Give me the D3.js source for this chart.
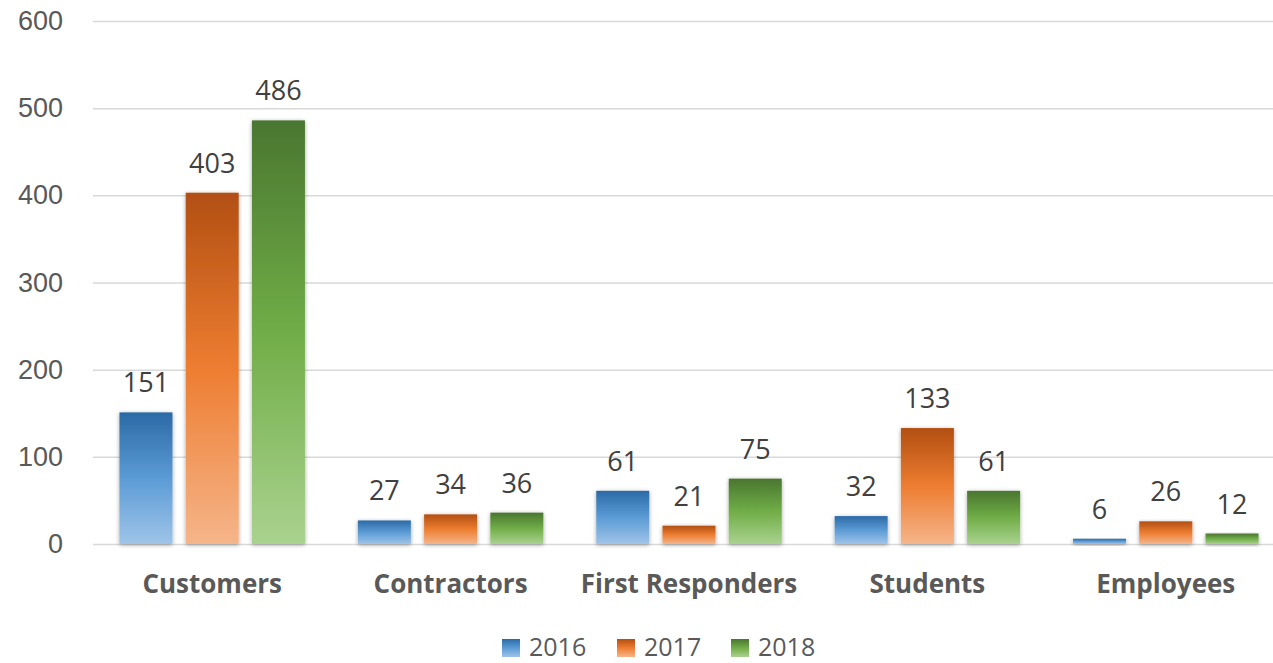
<!DOCTYPE html>
<html lang="en">
<head>
<meta charset="UTF-8">
<title>Bar chart</title>
<script src="https://d3js.org/d3.v7.min.js"></script>
<style>
  body { margin: 0; background: #fff; font-family: "Open Sans", Lato, sans-serif; }
  .axis text { fill: #595959; font-size: 27px; }
  .grid line { stroke: #d9d9d9; stroke-width: 1.5; }
  .cat-label { fill: #595959; font-size: 26px; font-weight: bold; }
  .bar-label { fill: #404040; font-size: 27px; }
  .legend text { fill: #595959; font-size: 25px; }
</style>
</head>
<body>
<svg width="1273" height="663"></svg>
<script>
// data
const categories = ['Customers', 'Contractors', 'First Responders', 'Students', 'Employees'];
const years = ['2016', '2017', '2018'];
const values2016 = [151, 27, 61, 32, 6];
const values2017 = [403, 34, 21, 133, 26];
const values2018 = [486, 36, 75, 61, 12];
const yTicks = [0, 100, 200, 300, 400, 500, 600];

const seriesValues = [values2016, values2017, values2018];
// gradient stops per series: top, middle, bottom
const palette = [
  ['#2b6aa6', '#5b9bd5', '#9fc4e8'],
  ['#b24f12', '#ed7d31', '#f5b58a'],
  ['#4a7630', '#70ad47', '#aad28f']
];

const svg = d3.select('svg');
const defs = svg.append('defs');

palette.forEach((c, i) => {
  const grad = defs.append('linearGradient')
    .attr('id', 'grad' + i)
    .attr('x1', 0).attr('y1', 0).attr('x2', 0).attr('y2', 1);
  grad.append('stop').attr('offset', '0%').attr('stop-color', c[0]);
  grad.append('stop').attr('offset', '50%').attr('stop-color', c[1]);
  grad.append('stop').attr('offset', '100%').attr('stop-color', c[2]);
});

const shadow = defs.append('filter').attr('id', 'shadow')
  .attr('x', '-20%').attr('y', '-10%').attr('width', '140%').attr('height', '130%');
shadow.append('feDropShadow')
  .attr('dx', 0).attr('dy', 1).attr('stdDeviation', 2)
  .attr('flood-color', '#000').attr('flood-opacity', 0.35);

const plotLeft = 93, plotRight = 1285, plotTop = 21, plotBottom = 544;

const x0 = d3.scaleBand()
  .domain(categories)
  .range([plotLeft, plotRight])
  .paddingInner(0.222)
  .paddingOuter(0.111);

const x1 = d3.scaleBand()
  .domain(years)
  .range([0, x0.bandwidth()])
  .paddingInner(0.2);

const y = d3.scaleLinear()
  .domain([0, 600])
  .range([plotBottom, plotTop]);

// gridlines
svg.append('g')
  .attr('class', 'grid')
  .attr('transform', `translate(${plotLeft},0)`)
  .call(d3.axisRight(y).tickValues(yTicks).tickSize(plotRight - plotLeft).tickFormat(''))
  .call(g => g.select('.domain').remove());

// y axis labels
svg.append('g')
  .attr('class', 'axis')
  .attr('transform', `translate(63,0)`)
  .call(d3.axisLeft(y).tickValues(yTicks).tickSize(0).tickPadding(0))
  .call(g => g.select('.domain').remove());

// bars
const groups = svg.append('g').selectAll('g')
  .data(categories)
  .enter().append('g')
  .attr('transform', d => `translate(${x0(d)},0)`);

const barData = (c, ci) => years.map((yr, i) => ({ year: yr, s: i, value: seriesValues[i][ci] }));

groups.selectAll('rect')
  .data((c, ci) => barData(c, ci))
  .enter().append('rect')
  .attr('x', d => x1(d.year))
  .attr('y', d => y(d.value))
  .attr('width', x1.bandwidth())
  .attr('height', d => y(0) - y(d.value))
  .attr('fill', d => `url(#grad${d.s})`)
  .attr('filter', 'url(#shadow)');

groups.selectAll('.bar-label')
  .data((c, ci) => barData(c, ci))
  .enter().append('text')
  .attr('class', 'bar-label')
  .attr('text-anchor', 'middle')
  .attr('x', d => x1(d.year) + x1.bandwidth() / 2)
  .attr('y', d => y(d.value) - 20)
  .text(d => d.value);

// category labels
svg.append('g').selectAll('text')
  .data(categories)
  .enter().append('text')
  .attr('class', 'cat-label')
  .attr('text-anchor', 'middle')
  .attr('x', d => x0(d) + x0.bandwidth() / 2)
  .attr('y', 593)
  .text(d => d);

// legend
const legendX = [502, 617, 731];
const legend = svg.append('g').attr('class', 'legend')
  .selectAll('g')
  .data(years)
  .enter().append('g')
  .attr('transform', (d, i) => `translate(${legendX[i]},639)`);

legend.append('rect')
  .attr('width', 18).attr('height', 18)
  .attr('fill', (d, i) => `url(#grad${i})`);

legend.append('text')
  .attr('x', 27).attr('y', 17)
  .text(d => d);
</script>
</body>
</html>
